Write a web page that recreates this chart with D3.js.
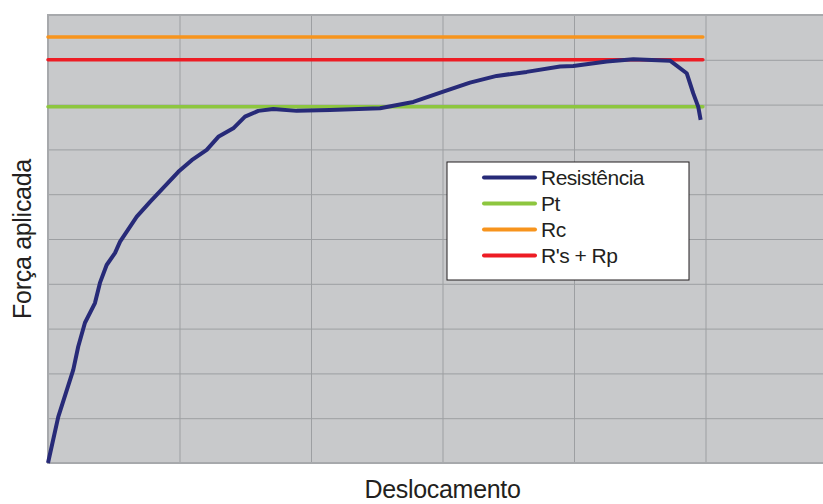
<!DOCTYPE html>
<html>
<head>
<meta charset="utf-8">
<script src="https://cdn.jsdelivr.net/npm/d3@7"></script>
<style>
  body { margin: 0; background: #fff; }
  text { font-family: "Liberation Sans", Arial, sans-serif; fill: #231f20; }
</style>
</head>
<body>
<div id="chart"></div>
<script>
// deslocamento (x) e força (y), unidades de grade
var deslocamento = [0, 0.078, 0.192, 0.230, 0.281, 0.357, 0.395, 0.446, 0.510, 0.548, 0.675, 0.776,
  0.991, 1.093, 1.207, 1.295, 1.409, 1.498, 1.599, 1.713, 1.891, 2.144, 2.525, 2.778, 3.006,
  3.209, 3.412, 3.640, 3.894, 3.995, 4.249, 4.451, 4.730, 4.857, 4.907, 4.945, 4.963];
var resistencia = [0, 1.03, 2.08, 2.60, 3.13, 3.57, 4.02, 4.42, 4.69, 4.94, 5.50, 5.83,
  6.50, 6.76, 6.99, 7.28, 7.47, 7.73, 7.86, 7.90, 7.86, 7.88, 7.92, 8.06, 8.29,
  8.49, 8.64, 8.73, 8.85, 8.86, 8.96, 9.01, 8.98, 8.70, 8.25, 7.95, 7.66];

var linhasNomes = ["Pt", "Rc", "R's + Rp"];
var linhasValores = [7.95, 9.51, 9.0];
var linhasFim = 4.98;

var legendaNomes = ["Resistência", "Pt", "Rc", "R's + Rp"];
var cores = ["#272a78", "#8dc63f", "#f7941d", "#ed1c24"];

var xTicks = [0, 1, 2, 3, 4, 5, 6];
var yTicks = [0, 1, 2, 3, 4, 5, 6, 7, 8, 9, 10];

var W = 823, H = 504;
var mLeft = 48, mTop = 15, mBottom = 463, mRight = 837;

var svg = d3.select("#chart").append("svg")
  .attr("width", W)
  .attr("height", H);

var x = d3.scaleLinear().domain([0, 6]).range([mLeft, mRight]);
var y = d3.scaleLinear().domain([0, 10]).range([mBottom, mTop]);

// fundo cinza
svg.append("rect")
  .attr("x", mLeft).attr("y", mTop)
  .attr("width", mRight - mLeft).attr("height", mBottom - mTop)
  .attr("fill", "#c8c9cb");

// grade
svg.append("g")
  .attr("transform", "translate(0," + mBottom + ")")
  .call(d3.axisBottom(x).tickValues(xTicks).tickSize(-(mBottom - mTop)).tickFormat(""))
  .call(function (g) {
    g.select(".domain").remove();
    g.selectAll("line").attr("stroke", "#9d9fa2").attr("stroke-width", 1);
  });

svg.append("g")
  .attr("transform", "translate(" + mLeft + ",0)")
  .call(d3.axisLeft(y).tickValues(yTicks).tickSize(-(mRight - mLeft)).tickFormat(""))
  .call(function (g) {
    g.select(".domain").remove();
    g.selectAll("line").attr("stroke", "#9d9fa2").attr("stroke-width", 1);
  });

// borda
svg.append("path")
  .attr("d", "M" + mRight + "," + mTop + "H" + mLeft + "V" + mBottom + "H" + mRight)
  .attr("fill", "none")
  .attr("stroke", "#a7a9ac")
  .attr("stroke-width", 2);

// linhas horizontais Pt, Rc, R's + Rp
svg.selectAll(".ref")
  .data(linhasValores)
  .enter().append("line")
  .attr("class", "ref")
  .attr("x1", x(0))
  .attr("x2", x(linhasFim))
  .attr("y1", function (d) { return y(d); })
  .attr("y2", function (d) { return y(d); })
  .attr("stroke", function (d, i) { return cores[i + 1]; })
  .attr("stroke-width", 3.5)
  .attr("stroke-linecap", "round");

// curva de resistência
var linha = d3.line()
  .x(function (d, i) { return x(deslocamento[i]); })
  .y(function (d) { return y(d); });

svg.append("path")
  .datum(resistencia)
  .attr("d", linha)
  .attr("fill", "none")
  .attr("stroke", cores[0])
  .attr("stroke-width", 4)
  .attr("stroke-linejoin", "round");

// legenda
var leg = svg.append("g").attr("transform", "translate(447,162)");
leg.append("rect")
  .attr("width", 242).attr("height", 118)
  .attr("fill", "#fff")
  .attr("stroke", "#231f20")
  .attr("stroke-width", 1);

var item = leg.selectAll(".item")
  .data(legendaNomes)
  .enter().append("g")
  .attr("class", "item")
  .attr("transform", function (d, i) { return "translate(0," + (15.5 + i * 26) + ")"; });

item.append("line")
  .attr("x1", 37).attr("x2", 88)
  .attr("stroke", function (d, i) { return cores[i]; })
  .attr("stroke-width", 4)
  .attr("stroke-linecap", "round");

item.append("text")
  .attr("x", 94)
  .attr("y", 7.5)
  .attr("font-size", 21)
  .attr("letter-spacing", -0.5)
  .text(function (d) { return d; });

// títulos dos eixos
svg.append("text")
  .attr("x", (mLeft + mRight) / 2)
  .attr("y", 498)
  .attr("text-anchor", "middle")
  .attr("font-size", 25)
  .attr("letter-spacing", -0.3)
  .text("Deslocamento");

svg.append("text")
  .attr("transform", "translate(31," + (mTop + mBottom) / 2 + ") rotate(-90)")
  .attr("text-anchor", "middle")
  .attr("font-size", 25)
  .attr("letter-spacing", -0.3)
  .text("Força aplicada");
</script>
</body>
</html>
